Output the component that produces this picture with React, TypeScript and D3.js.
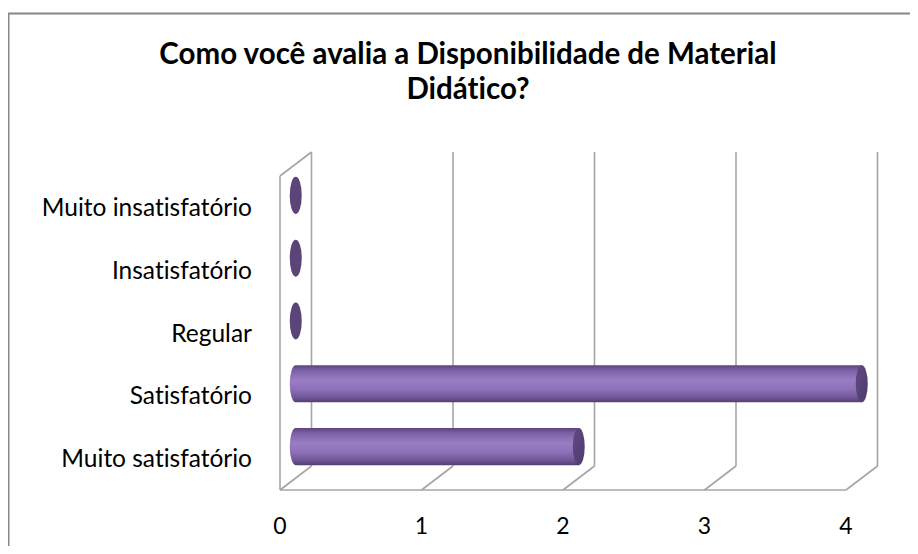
import React from 'react';
import * as d3 from 'd3';

// chart data
const categories = ['Muito insatisfatório', 'Insatisfatório', 'Regular', 'Satisfatório', 'Muito satisfatório'];
const values = [0, 0, 0, 4, 2];
const ticks = [0, 1, 2, 3, 4];
const titleLines = ['Como você avalia a Disponibilidade de Material', 'Didático?'];

const W = 918;
const H = 554;
const font = 'Lato, "Open Sans", sans-serif';

// 3d depth offset (back wall vs front edge)
const depthX = 31.5;
const depthY = -24;

const App = () => {
  const x = d3.scaleLinear().domain([0, 4]).range([280, 846]);
  const y = d3.scaleBand<string>().domain(categories).range([176, 490]);

  const floorY = 490;
  const topY = 176;
  const grid = '#a6a6a6';

  const midX = (v: number) => x(v) + depthX / 2;
  const midY = (c: string) => (y(c) as number) + y.bandwidth() / 2 + depthY / 2;
  const ry = y.bandwidth() * 0.295;
  const rx = 6;

  return (
    <svg
      width={W}
      height={H}
      style={{ display: 'block', margin: '-8px', fontVariantLigatures: 'none' }}
      fontFamily={font}
    >
      <defs>
        <linearGradient id="cyl" x1="0" y1="0" x2="0" y2="1">
          <stop offset="0" stopColor="#5b4479" />
          <stop offset="0.12" stopColor="#7a5ea3" />
          <stop offset="0.4" stopColor="#9a7dc3" />
          <stop offset="0.65" stopColor="#8e70b8" />
          <stop offset="0.88" stopColor="#6e5496" />
          <stop offset="1" stopColor="#523e6e" />
        </linearGradient>
        <linearGradient id="cap" x1="0" y1="0" x2="1" y2="1">
          <stop offset="0" stopColor="#624a84" />
          <stop offset="1" stopColor="#4e3b6b" />
        </linearGradient>
      </defs>

      <rect x={8.5} y={13.5} width={W} height={H} fill="#fff" stroke="#878787" strokeWidth={2} />

      {titleLines.map((t, i) => (
        <text key={t} x={468} y={64 + i * 35} textAnchor="middle" fontSize={29.5} fontWeight="bold" fill="#000">
          {t}
        </text>
      ))}

      {/* walls and floor */}
      <g stroke={grid} strokeWidth={1.6} fill="none">
        {ticks.map((t) => (
          <line key={'b' + t} x1={x(t) + depthX} x2={x(t) + depthX} y1={topY + depthY} y2={floorY + depthY} />
        ))}
        {ticks.map((t) => (
          <line key={'f' + t} x1={x(t)} x2={x(t) + depthX} y1={floorY} y2={floorY + depthY} />
        ))}
        <line x1={x(0)} x2={x(4)} y1={floorY} y2={floorY} />
        <line x1={x(0)} x2={x(0)} y1={topY} y2={floorY} />
        <line x1={x(0)} x2={x(0) + depthX} y1={topY} y2={topY + depthY} />
      </g>

      {/* cylinders */}
      {categories.map((c, i) => {
        const v = values[i];
        const cy = midY(c);
        const x0 = midX(0);
        const x1 = midX(v);
        if (v === 0) {
          return <ellipse key={c} cx={x0} cy={cy} rx={rx} ry={ry} fill="#5a4478" />;
        }
        const body = `M${x0},${cy - ry} L${x1},${cy - ry} L${x1},${cy + ry} L${x0},${cy + ry} A${rx},${ry} 0 0 1 ${x0},${cy - ry} Z`;
        return (
          <g key={c}>
            <path d={body} fill="url(#cyl)" />
            <ellipse cx={x1} cy={cy} rx={rx} ry={ry} fill="url(#cap)" />
          </g>
        );
      })}

      {/* category labels */}
      {categories.map((c) => (
        <text key={c} x={252} y={(y(c) as number) + y.bandwidth() / 2} dy="0.35em" textAnchor="end" fontSize={24.5} fill="#000">
          {c}
        </text>
      ))}

      {/* value labels */}
      {ticks.map((t) => (
        <text key={t} x={x(t)} y={534} textAnchor="middle" fontSize={23} fill="#000">
          {t}
        </text>
      ))}
    </svg>
  );
};

export default App;
